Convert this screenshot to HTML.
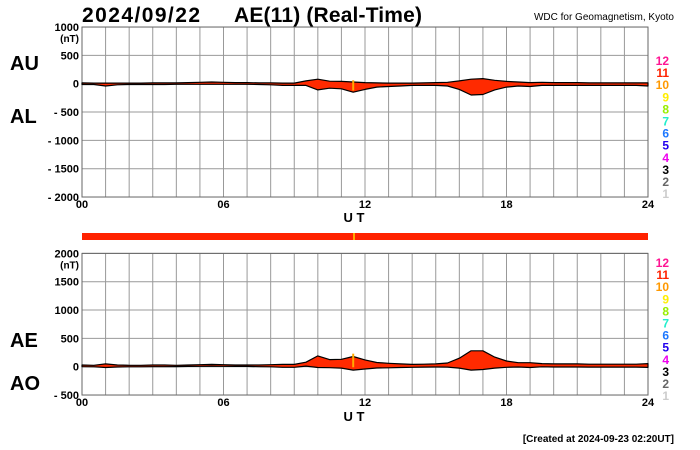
<!DOCTYPE html>
<html><head><meta charset="utf-8">
<style>
html,body{margin:0;padding:0;background:#fff;}
svg{display:block;font-family:"Liberation Sans",Arial,sans-serif;font-weight:bold;}
</style></head>
<body>
<svg id="c" width="700" height="450" viewBox="0 0 700 450" xmlns="http://www.w3.org/2000/svg">
<text x="82" y="22" font-size="21" textLength="118">2024/09/22</text>
<text x="234" y="22" font-size="21" textLength="188">AE(11) (Real-Time)</text>
<text x="674" y="20" font-size="10" text-anchor="end" font-weight="normal">WDC for Geomagnetism, Kyoto</text>
<text x="10" y="70" font-size="20">AU</text>
<text x="10" y="123" font-size="20">AL</text>
<text x="10" y="347" font-size="20">AE</text>
<text x="10" y="390" font-size="20">AO</text>
<text x="354" y="222" font-size="13" text-anchor="middle">U T</text>
<text x="354" y="421" font-size="13" text-anchor="middle">U T</text>
<text x="674" y="442" font-size="10" text-anchor="end">[Created at 2024-09-23 02:20UT]</text>
<rect x="82" y="233" width="566" height="7" fill="#ff2200"/>
<rect x="353" y="233" width="2" height="7" fill="#ffaa00"/>
<g id="g"></g>
</svg>
<script>
const hours=[];for(let i=0;i<=48;i++)hours.push(i/2);
const auValues=[15,10,10,10,10,10,15,15,15,20,25,30,25,20,20,15,15,10,10,50,80,45,40,30,20,15,10,10,10,15,20,25,50,80,90,60,40,30,20,25,20,20,20,15,15,15,15,15,15];
const alValues=[-15,-15,-40,-20,-15,-15,-15,-15,-10,-10,-10,-10,-10,-10,-10,-15,-20,-30,-30,-30,-110,-80,-90,-150,-100,-60,-50,-40,-30,-30,-30,-40,-100,-200,-190,-110,-60,-40,-50,-30,-30,-30,-30,-30,-30,-30,-30,-30,-40];
const topTicks=[1000,500,0,-500,-1000,-1500,-2000];
const botTicks=[2000,1500,1000,500,0,-500];
const xTicks=["00","06","12","18","24"];
const legendNums=["12","11","10","9","8","7","6","5","4","3","2","1"];
const legendCols=["#ff1493","#ff2200","#ff9900","#ffee00","#99ee00","#22eecc","#1e78ff","#2200ee","#ee00ee","#000","#666","#ccc"];
const NS="http://www.w3.org/2000/svg",g=document.getElementById('g');
const X0=82,X1=648;
const x=h=>X0+(X1-X0)*h/24;
const yT=v=>83.7-v*28.33/500;
const yB=v=>366.7-v*28.33/500;
function el(t,a){const e=document.createElementNS(NS,t);for(const k in a)e.setAttribute(k,a[k]);g.appendChild(e);return e;}
function panel(y,ticks,top,bot,nm,legY){
  for(let h=0;h<=24;h++){const l=el('line',{x1:x(h),x2:x(h),y1:top,y2:bot,stroke:'#999','stroke-width':1});
    }
  ticks.forEach((t,i)=>{const l=el('line',{x1:X0,x2:X1,y1:y(t),y2:y(t),stroke:'#999','stroke-width':1});
    
    const s=t<0?'- '+(-t):''+t;
    const tx=el('text',{x:X0-3,y:y(t)+4,'font-size':11,'text-anchor':'end'});tx.textContent=s;
    
    if(i==0){const u=el('text',{x:X0-3,y:y(t)+15,'font-size':10,'text-anchor':'end'});u.textContent='(nT)';
      }
  });
  const r=el('rect',{x:X0,y:top,width:X1-X0,height:bot-top,fill:'none',stroke:'#666'});
  
  xTicks.forEach((s,i)=>{const t=el('text',{x:x(i*6),y:bot+11,'font-size':11,'text-anchor':'middle'});t.textContent=s;
    });
  legendNums.forEach((s,i)=>{const t=el('text',{x:669,y:legY+i*12.1,'font-size':12,'text-anchor':'end',fill:legendCols[i]});t.textContent=s;
    });
}
function band(up,lo,y,nm){
  let d='M'+hours.map((h,i)=>x(h).toFixed(1)+','+y(up[i]).toFixed(1)).join('L');
  d+='L'+hours.slice().reverse().map((h,j)=>{const i=hours.length-1-j;return x(h).toFixed(1)+','+y(lo[i]).toFixed(1);}).join('L')+'Z';
  const p=el('path',{d:d,fill:'#ff2a00',stroke:'#000','stroke-width':1.2,'stroke-linejoin':'round'});
  
}
panel(yT,topTicks,yT(1000),yT(-2000),'top',65);
panel(yB,botTicks,yB(2000),yB(-500),'bottom',267);
band(auValues,alValues,yT,'au-al-band');
const aeValues=auValues.map((u,i)=>u-alValues[i]);
const aoValues=auValues.map((u,i)=>(u+alValues[i])/2);
band(aeValues,aoValues,yB,'ae-ao-band');
[[yT(60),yT(-120)],[yB(230),yB(-10)]].forEach((a,k)=>{const r=el('rect',{x:x(11.5)-1,y:a[0],width:2,height:a[1]-a[0],fill:'#ffaa00'});
  });
</script>
</body></html>
